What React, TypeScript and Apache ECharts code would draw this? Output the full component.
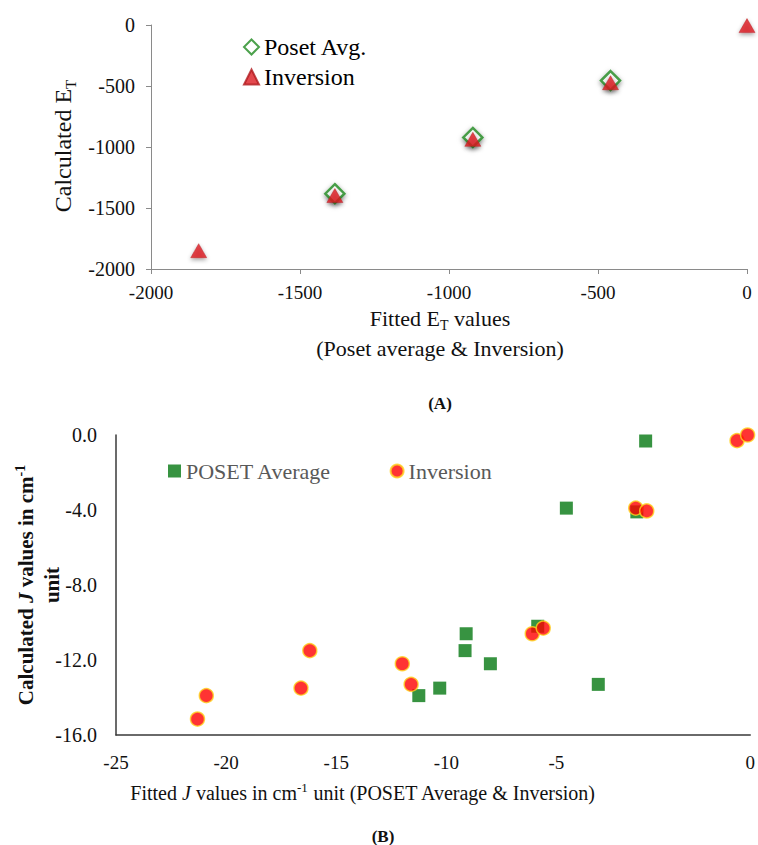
import React, { useEffect, useRef } from 'react';
import * as echarts from 'echarts';

// ---- Chart (A): fitted vs calculated E_T ----
const aTicks = [-2000, -1500, -1000, -500, 0];
const aPosetAvg: number[][] = [
  [-1383, -1383],
  [-920, -922],
  [-458, -455],
];
const aInversion: number[][] = [
  [-1840, -1850],
  [-1383, -1398],
  [-920, -937],
  [-458, -473],
  [0, -5],
];

// ---- Chart (B): fitted vs calculated J ----
const bYTicks = [0, -4, -8, -12, -16];
const bXTickLabels = ['-25', '-20', '-15', '-10', '-5', '0'];
const bPosetAverage: number[][] = [
  [-0.95, -0.32],
  [-4.55, -3.9],
  [-1.35, -4.1],
  [-5.85, -10.2],
  [-9.1, -10.6],
  [-9.15, -11.5],
  [-8.0, -12.2],
  [-10.3, -13.5],
  [-11.25, -13.9],
  [-3.1, -13.3],
];
const bInversion: number[][] = [
  [-21.3, -15.15],
  [-20.9, -13.9],
  [-16.6, -13.5],
  [-16.2, -11.5],
  [-12.0, -12.2],
  [-11.6, -13.3],
  [-6.1, -10.6],
  [-5.6, -10.3],
  [-1.4, -3.9],
  [-0.9, -4.05],
  [3.2, -0.3],
  [3.68, 0.0],
];

const SERIF = "'Liberation Serif', 'Times New Roman', serif";

const serifText = (size: number, color: string) => ({
  fontSize: size,
  fontFamily: SERIF,
  color,
});

export default function App() {
  const ref = useRef<HTMLDivElement>(null);

  useEffect(() => {
    if (!ref.current) return;
    const chart = echarts.init(ref.current, null, { renderer: 'svg' });
    const bMax = 3.8;

    const topAxisCommon = {
      type: 'value' as const,
      min: aTicks[0],
      max: aTicks[aTicks.length - 1],
      interval: 500,
      axisLine: { onZero: false, lineStyle: { color: '#8a8a8a', width: 1 } },
      axisTick: { show: true, inside: false, length: 5, lineStyle: { color: '#8a8a8a' } },
      splitLine: { show: false },
    };

    const option: any = {
      animation: false,
      backgroundColor: '#ffffff',
      textStyle: { fontFamily: SERIF },
      grid: [
        { left: 151, top: 25, width: 596, height: 244 },
        { left: 116, top: 435, width: 639, height: 300 },
      ],
      xAxis: [
        {
          ...topAxisCommon,
          gridIndex: 0,
          axisLabel: {
            ...serifText(19, '#111'),
            margin: 14,
            formatter: (v: number) => String(v),
          },
        },
        {
          type: 'value',
          gridIndex: 1,
          min: -25,
          max: bMax,
          interval: 5,
          axisLine: { onZero: false, lineStyle: { color: '#3a3a3a', width: 1.5 } },
          axisTick: { show: false },
          splitLine: { show: false },
          axisLabel: {
            ...serifText(19, '#111'),
            margin: 18,
            showMaxLabel: true,
            formatter: (v: number) => {
              if (v > 0) return bXTickLabels[bXTickLabels.length - 1];
              if (v === 0) return '';
              return String(v);
            },
          },
        },
      ],
      yAxis: [
        {
          ...topAxisCommon,
          gridIndex: 0,
          axisLabel: {
            ...serifText(20, '#111'),
            margin: 16,
            formatter: (v: number) => String(v),
          },
        },
        {
          type: 'value',
          gridIndex: 1,
          min: bYTicks[bYTicks.length - 1],
          max: bYTicks[0],
          interval: 4,
          axisLine: { onZero: false, lineStyle: { color: '#3a3a3a', width: 1.5 } },
          axisTick: { show: false },
          splitLine: { show: false },
          axisLabel: {
            ...serifText(20, '#111'),
            margin: 19,
            formatter: (v: number) => v.toFixed(1),
          },
        },
      ],
      legend: [
        {
          orient: 'vertical',
          left: 238,
          top: 30,
          itemWidth: 15,
          itemHeight: 15,
          itemGap: 6,
          data: ['Poset Avg.', 'Inversion'],
          textStyle: serifText(24, '#000'),
          selectedMode: false,
        },
        {
          orient: 'horizontal',
          left: 163,
          top: 455,
          itemWidth: 13,
          itemHeight: 13,
          itemGap: 58,
          data: ['POSET Average', 'Inversion (B)'],
          formatter: (n: string) => n.replace(' (B)', ''),
          textStyle: serifText(22, '#595959'),
          selectedMode: false,
        },
      ],
      series: [
        {
          name: 'Poset Avg.',
          type: 'scatter',
          xAxisIndex: 0,
          yAxisIndex: 0,
          symbol: 'diamond',
          symbolSize: 19,
          data: aPosetAvg,
          itemStyle: {
            color: '#ffffff',
            borderColor: '#1f8a1f',
            borderWidth: 2.5,
            shadowColor: 'rgba(0,0,0,0.55)',
            shadowBlur: 5,
            shadowOffsetY: 2,
          },
          z: 2,
        },
        {
          name: 'Inversion',
          type: 'scatter',
          xAxisIndex: 0,
          yAxisIndex: 0,
          symbol: 'triangle',
          symbolSize: [16, 14],
          data: aInversion,
          itemStyle: {
            color: '#dc1c22',
            borderColor: '#b01a1e',
            borderWidth: 0.5,
            shadowColor: 'rgba(0,0,0,0.45)',
            shadowBlur: 4,
            shadowOffsetY: 2,
          },
          z: 3,
        },
        {
          name: 'POSET Average',
          type: 'scatter',
          xAxisIndex: 1,
          yAxisIndex: 1,
          symbol: 'rect',
          symbolSize: 13,
          data: bPosetAverage,
          itemStyle: { color: '#057812' },
          z: 2,
        },
        {
          name: 'Inversion (B)',
          type: 'scatter',
          xAxisIndex: 1,
          yAxisIndex: 1,
          symbol: 'circle',
          symbolSize: 14,
          data: bInversion,
          itemStyle: {
            color: '#ff0000',
            borderColor: '#ffd21e',
            borderWidth: 1.5,
          },
          z: 3,
        },
      ],
      graphic: [
        {
          type: 'text',
          x: 63,
          y: 146,
          rotation: Math.PI / 2,
          style: {
            text: '{a|Calculated E}{s|T}',
            align: 'center',
            verticalAlign: 'middle',
            rich: {
              a: { fontSize: 24, fontFamily: SERIF, fill: '#111', lineHeight: 30 },
              s: { fontSize: 15, fontFamily: SERIF, fill: '#111', verticalAlign: 'bottom' },
            },
          },
        },
        {
          type: 'text',
          x: 440,
          y: 318,
          style: {
            text: '{a|Fitted E}{s|T}{a| values}',
            align: 'center',
            verticalAlign: 'middle',
            rich: {
              a: { fontSize: 22, fontFamily: SERIF, fill: '#111', lineHeight: 28 },
              s: { fontSize: 14, fontFamily: SERIF, fill: '#111', verticalAlign: 'bottom' },
            },
          },
        },
        {
          type: 'text',
          x: 440,
          y: 348,
          style: {
            text: '(Poset average & Inversion)',
            align: 'center',
            verticalAlign: 'middle',
            fontSize: 22,
            fontFamily: SERIF,
            fill: '#111',
          },
        },
        {
          type: 'text',
          x: 440,
          y: 403,
          style: {
            text: '(A)',
            align: 'center',
            verticalAlign: 'middle',
            fontSize: 17,
            fontWeight: 'bold',
            fontFamily: SERIF,
            fill: '#111',
          },
        },
        {
          type: 'text',
          x: 26,
          y: 585,
          rotation: Math.PI / 2,
          style: {
            text: '{a|Calculated }{i|J}{a| values in cm}{sup|-1}',
            align: 'center',
            verticalAlign: 'middle',
            rich: {
              a: { fontSize: 21, fontWeight: 'bold', fontFamily: SERIF, fill: '#111', lineHeight: 26 },
              i: { fontSize: 21, fontWeight: 'bold', fontStyle: 'italic', fontFamily: SERIF, fill: '#111', lineHeight: 26 },
              sup: { fontSize: 14, fontWeight: 'bold', fontFamily: SERIF, fill: '#111', verticalAlign: 'top' },
            },
          },
        },
        {
          type: 'text',
          x: 52,
          y: 585,
          rotation: Math.PI / 2,
          style: {
            text: 'unit',
            align: 'center',
            verticalAlign: 'middle',
            fontSize: 21,
            fontWeight: 'bold',
            fontFamily: SERIF,
            fill: '#111',
          },
        },
        {
          type: 'text',
          x: 363,
          y: 793,
          style: {
            text: '{a|Fitted }{i|J}{a| values in cm}{sup|-1}{a| unit (POSET Average & Inversion)}',
            align: 'center',
            verticalAlign: 'middle',
            rich: {
              a: { fontSize: 20, fontFamily: SERIF, fill: '#111', lineHeight: 24 },
              i: { fontSize: 20, fontStyle: 'italic', fontFamily: SERIF, fill: '#111', lineHeight: 24 },
              sup: { fontSize: 13, fontFamily: SERIF, fill: '#111', verticalAlign: 'top' },
            },
          },
        },
        {
          type: 'text',
          x: 383,
          y: 836,
          style: {
            text: '(B)',
            align: 'center',
            verticalAlign: 'middle',
            fontSize: 17,
            fontWeight: 'bold',
            fontFamily: SERIF,
            fill: '#111',
          },
        },
      ],
    };

    chart.setOption(option);
    return () => {
      chart.dispose();
    };
  }, []);

  return (
    <>
      <style>{`#etchart svg text { font-family: 'Liberation Serif', 'Times New Roman', serif !important; }`}</style>
      <div
        id="etchart"
        ref={ref}
        style={{ position: 'fixed', left: 0, top: 0, width: 758, height: 845, background: '#fff' }}
      />
    </>
  );
}
